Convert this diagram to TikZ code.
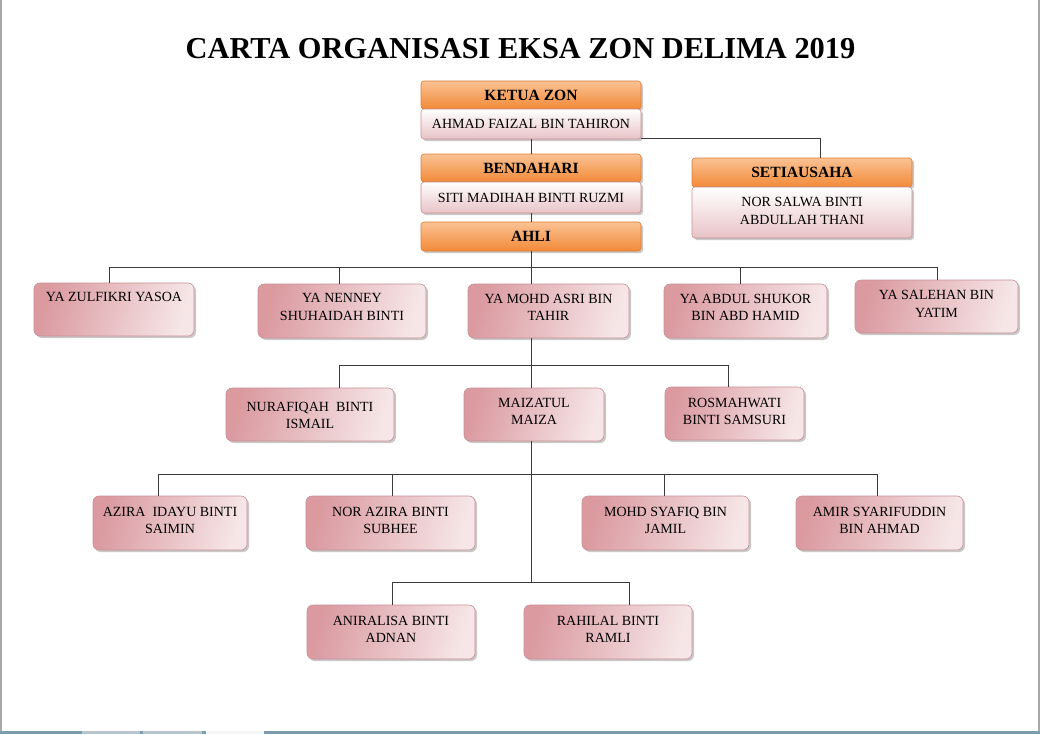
\documentclass[tikz,border=0pt]{standalone}
\usepackage{fontspec}
\setmainfont{Liberation Serif}
\usetikzlibrary{shadows}
\definecolor{orTop}{HTML}{FAC293}
\definecolor{orBot}{HTML}{F28A38}
\definecolor{orLine}{HTML}{DE7C34}
\definecolor{pkDark}{HTML}{DA9AA0}
\definecolor{pkLight}{HTML}{F6E6E7}
\definecolor{pkLine}{HTML}{C79094}
\definecolor{nmBot}{HTML}{E8C3C6}
\definecolor{conn}{HTML}{3A3A3A}
\definecolor{frameGray}{HTML}{A8A8A8}
\definecolor{taskBlue}{HTML}{7C9CB0}
\definecolor{tabGray}{HTML}{B9C6CE}
\tikzset{
  shd/.style={drop shadow={shadow xshift=2pt,shadow yshift=-2pt,opacity=0.35,fill=black!60}},
  hdr/.style={shd,rounded corners=3pt,draw=orLine,line width=0.6pt,
    top color=orTop,bottom color=orBot,minimum width=220pt,inner sep=0pt,
    font=\bfseries\fontsize{15.6}{17}\selectfont},
  nmbox/.style={shd,rounded corners=3pt,draw=pkLine,line width=0.6pt,
    top color=white,bottom color=nmBot,minimum width=220pt,inner sep=0pt,
    align=center,font=\fontsize{14}{17}\selectfont},
  pbox/.style={shd,rounded corners=6pt,draw=pkLine,line width=0.6pt,
    left color=pkDark,right color=pkLight,shading angle=75,inner sep=0pt},
  ptxt/.style={anchor=north,inner sep=0pt,align=center,font=\fontsize{14}{17.3}\selectfont},
  cn/.style={draw=conn,line width=0.8pt},
}
\begin{document}
\begin{tikzpicture}[x=1pt,y=-1pt]
\useasboundingbox (0,0) rectangle (1040,734);
\fill[white] (0,0) rectangle (1040,734);
% window frame
\fill[frameGray] (0,0) rectangle (1.6,731);
\fill[frameGray] (1037.5,0) rectangle (1040,731);
\fill[taskBlue] (0,731) rectangle (1040,734);
\fill[tabGray] (82,731) rectangle (140,734);
\fill[tabGray] (143,731) rectangle (202,734);
\fill[white!85!tabGray] (206,731) rectangle (264,734);

% title
\node[font=\bfseries\fontsize{30.4}{32}\selectfont,inner sep=0pt] (title) at (520.5,49) {CARTA ORGANISASI EKSA ZON DELIMA 2019};

% top hierarchy
\node[hdr,minimum height=28pt] (ketua) at (531,95) {KETUA ZON};
\node[nmbox,minimum height=30pt] (ketuaN) at (531,124) {AHMAD FAIZAL BIN TAHIRON};
\node[hdr,minimum height=28pt] (bend) at (531,168) {BENDAHARI};
\node[nmbox,minimum height=31pt] (bendN) at (531,197.5) {SITI MADIHAH BINTI RUZMI};
\node[hdr,minimum height=29pt] (ahli) at (531,236.5) {AHLI};
\node[hdr,minimum height=29pt] (setia) at (802,172.5) {SETIAUSAHA};
\node[nmbox,minimum height=51pt] (setiaN) at (802,212.5) {};
\node[ptxt] (setiaT) at (802,197.5) {NOR SALWA BINTI\\ABDULLAH THANI};

% row 1
\node[pbox,minimum width=160pt,minimum height=53pt] (zul) at (114,309.5) {};
\node[ptxt] (zulT) at (114,292.5) {YA ZULFIKRI YASOA};
\node[pbox,minimum width=168pt,minimum height=54pt] (nen) at (342,311) {};
\node[ptxt] (nenT) at (342,293.5) {YA NENNEY\\SHUHAIDAH BINTI};
\node[pbox,minimum width=161pt,minimum height=54pt] (asri) at (548.5,311) {};
\node[ptxt] (asriT) at (548.5,294) {YA MOHD ASRI BIN\\TAHIR};
\node[pbox,minimum width=163pt,minimum height=54pt] (shu) at (745.5,311) {};
\node[ptxt] (shuT) at (745.5,294) {YA ABDUL SHUKOR\\BIN ABD HAMID};
\node[pbox,minimum width=163pt,minimum height=53pt] (sal) at (936.5,306.5) {};
\node[ptxt] (salT) at (936.5,290.5) {YA SALEHAN BIN\\YATIM};

% row 2
\node[pbox,minimum width=168pt,minimum height=53pt] (nur) at (310,414.5) {};
\node[ptxt] (nurT) at (310,402) {NURAFIQAH\ \ BINTI\\ISMAIL};
\node[pbox,minimum width=140pt,minimum height=53pt] (mai) at (534,414.5) {};
\node[ptxt] (maiT) at (534,398) {MAIZATUL\\MAIZA};
\node[pbox,minimum width=139pt,minimum height=53pt] (ros) at (734.5,413.5) {};
\node[ptxt] (rosT) at (734.5,398) {ROSMAHWATI\\BINTI SAMSURI};

% row 3
\node[pbox,minimum width=154pt,minimum height=54pt] (azi) at (170,523) {};
\node[ptxt] (aziT) at (170,507) {AZIRA\ \ IDAYU BINTI\\SAIMIN};
\node[pbox,minimum width=169pt,minimum height=54pt] (nor) at (390.5,523) {};
\node[ptxt] (norT) at (390.5,507) {NOR AZIRA BINTI\\SUBHEE};
\node[pbox,minimum width=167pt,minimum height=54pt] (sya) at (665.5,523) {};
\node[ptxt] (syaT) at (665.5,507) {MOHD SYAFIQ BIN\\JAMIL};
\node[pbox,minimum width=167pt,minimum height=54pt] (ami) at (879.5,523) {};
\node[ptxt] (amiT) at (879.5,507) {AMIR SYARIFUDDIN\\BIN AHMAD};

% row 4
\node[pbox,minimum width=168pt,minimum height=54pt] (ani) at (391,632) {};
\node[ptxt] (aniT) at (391,616) {ANIRALISA BINTI\\ADNAN};
\node[pbox,minimum width=168pt,minimum height=54pt] (rah) at (608,632) {};
\node[ptxt] (rahT) at (608,616) {RAHILAL BINTI\\RAMLI};

% bus coordinates
\coordinate (k1) at (820,138);
\coordinate (b1) at (531,267);
\coordinate (x1a) at (109,267);
\coordinate (x1b) at (339,267);
\coordinate (x1d) at (740,267);
\coordinate (x1e) at (937,267);
\coordinate (b2) at (531,365);
\coordinate (x2a) at (339,365);
\coordinate (x2c) at (728,365);
\coordinate (b3) at (531,474);
\coordinate (x3a) at (158,474);
\coordinate (x3b) at (392,474);
\coordinate (x3c) at (664,474);
\coordinate (x3d) at (877,474);
\coordinate (b4) at (531,582);
\coordinate (x4a) at (392,582);
\coordinate (x4b) at (629,582);

% connectors
\draw[cn] (ketuaN.south) -- (bend.north);
\draw[cn] (bendN.south) -- (ahli.north);
\draw[cn] (k1 -| ketuaN.east) -- (k1) -- (k1 |- setia.north);
\draw[cn] (ahli.south) -- (b1);
\draw[cn] (x1a) -- (x1e);
\draw[cn] (x1a) -- (x1a |- zul.north);
\draw[cn] (x1b) -- (x1b |- nen.north);
\draw[cn] (b1) -- (b1 |- asri.north);
\draw[cn] (x1d) -- (x1d |- shu.north);
\draw[cn] (x1e) -- (x1e |- sal.north);
\draw[cn] (b2 |- asri.south) -- (b2);
\draw[cn] (x2a) -- (x2c);
\draw[cn] (x2a) -- (x2a |- nur.north);
\draw[cn] (b2) -- (b2 |- mai.north);
\draw[cn] (x2c) -- (x2c |- ros.north);
\draw[cn] (b3 |- mai.south) -- (b4);
\draw[cn] (x3a) -- (x3d);
\draw[cn] (x3a) -- (x3a |- azi.north);
\draw[cn] (x3b) -- (x3b |- nor.north);
\draw[cn] (x3c) -- (x3c |- sya.north);
\draw[cn] (x3d) -- (x3d |- ami.north);
\draw[cn] (x4a) -- (x4b);
\draw[cn] (x4a) -- (x4a |- ani.north);
\draw[cn] (x4b) -- (x4b |- rah.north);
\end{tikzpicture}
\end{document}
